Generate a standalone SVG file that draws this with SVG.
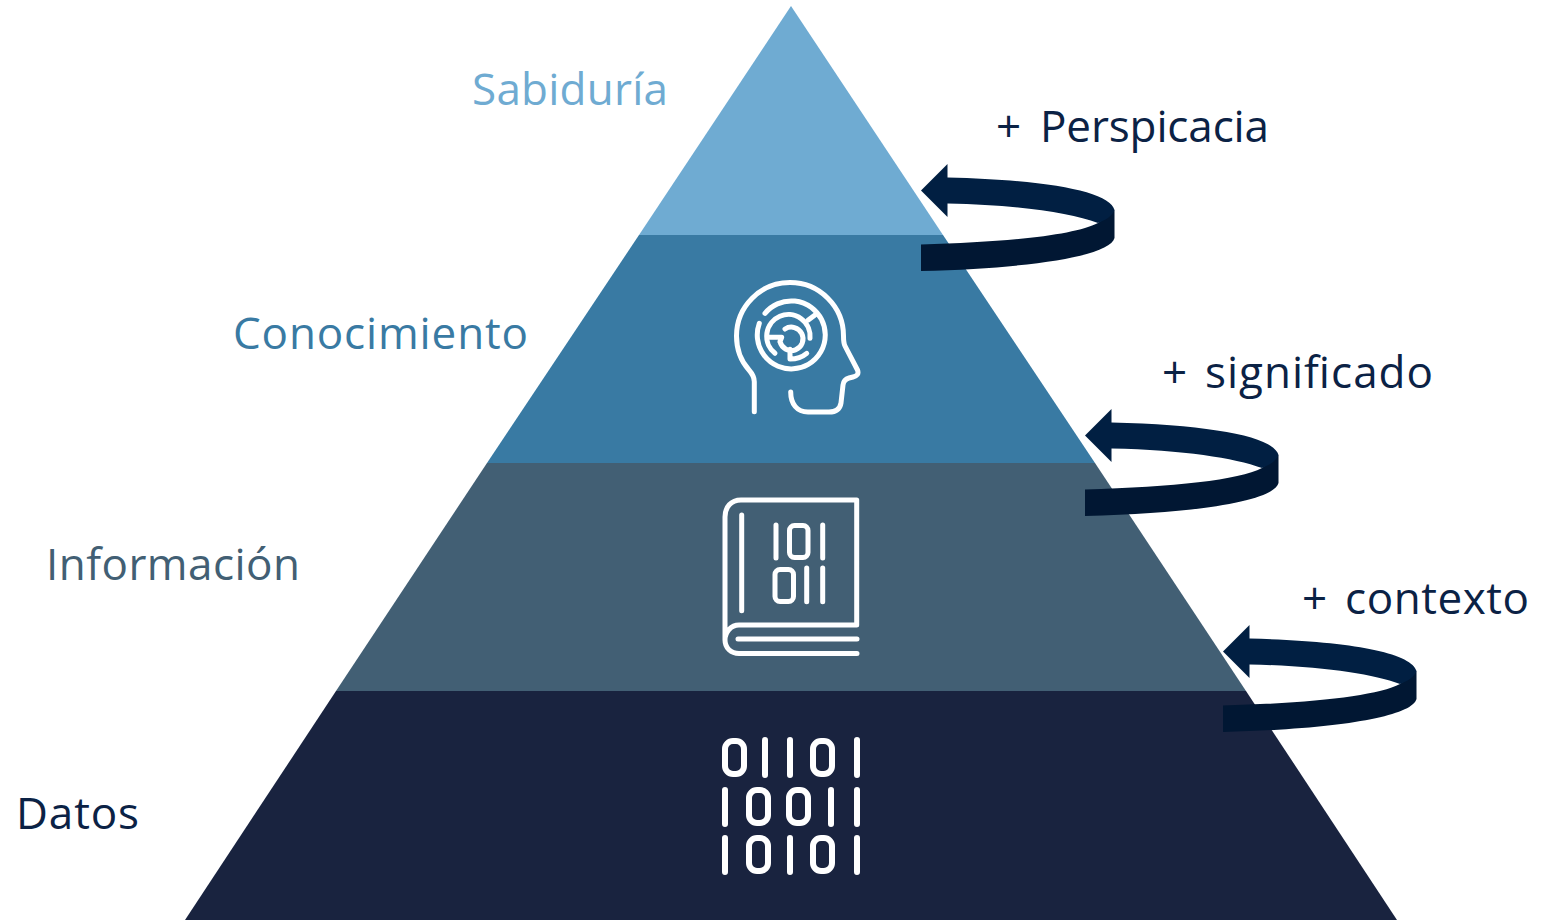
<svg xmlns="http://www.w3.org/2000/svg" width="1557" height="920" viewBox="0 0 1557 920">
<defs>
<style>
text{font-family:"Open Sans","Noto Sans","Liberation Sans",sans-serif;font-size:44px}
.i{fill:none;stroke:#fff;stroke-width:5;stroke-linecap:round;stroke-linejoin:round}
.d{stroke-width:6}
.lab{fill:#0b2245}
.top{fill:#011f42}
.low{fill:#011733}
</style>
<g id="arrowShape">
<path class="low" d="M1114.500 210V238C1110 255 1040 268 921 271V244.500C1010 242 1075 235 1098 223Z"/>
<path class="top" d="M921 190.500L947.500 164V177.500C1050 180 1110 192 1114.500 210C1112 216 1106 220 1098 223C1070 213 1020 205 947.500 203.500V217Z"/>
</g>
</defs>
<rect width="1557" height="920" fill="#fff"/>
<g id="level-sabiduria"><path d="M791 6L943 235H639Z" fill="#6fabd2"/><text x="472" y="105" fill="#6fabd2" textLength="196">Sabiduría</text></g>
<g id="level-conocimiento"><path d="M639 235H943L1095 463H487Z" fill="#397aa3"/><text x="233" y="349" fill="#397aa3" textLength="295">Conocimiento</text>
<g class="i">
<path d="M754.300 411.700V381.700Q754.300 376 749 370C740 360 736.500 349 736.500 336A53.500 53.500 0 0 1 843.500 336C843.500 341 843.500 343 845 346L857.500 370C859 374 857 376 853 377L849 378C845 379 843.500 381 843 385L841 403C840 409 836 412 829 412H808C797 412 790.700 404 790.700 392"/>
<path d="M765 313.300A34 34 0 1 1 759.300 323.300"/>
<path d="M808.300 320L815 315"/>
<path d="M810 338.300A21.700 21.700 0 1 0 775 353.300"/>
<path d="M768.300 337.300H781.700L780 341.700M785 329A11.700 11.700 0 1 1 780 341.700M790 349.300V359Q800 359 806.700 353.300"/>
</g></g>
<g id="level-informacion"><path d="M487 463H1095L1246 691H336Z" fill="#425f74"/><text x="46" y="580" fill="#425f74" textLength="254">Información</text>
<g class="i">
<path d="M856.700 625V500H741C731 500 725 507 725 517V640C725 648 731 653.500 739 653.500H857M856.700 625H739C731 625 725 632 725 640M738 639H857M741.700 515V610.700M776 525V558M822.700 525V558M806.700 568V601.700M822.700 568V601.700"/>
<rect x="789.500" y="525.500" width="18.500" height="32" rx="5"/>
<rect x="775" y="569.500" width="18.500" height="32" rx="5"/>
</g></g>
<g id="level-datos"><path d="M336 691H1246L1397 920H185Z" fill="#19233f"/><text x="16" y="829" fill="#0b2245" textLength="123">Datos</text>
<g class="i d">
<rect x="725" y="741" width="19" height="33" rx="8"/><rect x="813" y="741" width="19" height="33" rx="8"/>
<rect x="749" y="790" width="19" height="33" rx="8"/><rect x="789" y="790" width="19" height="33" rx="8"/>
<rect x="749" y="838" width="19" height="33" rx="8"/><rect x="813" y="838" width="19" height="33" rx="8"/>
<path d="M765 740V775M790 740V775M857 740V775M725 790V824M831 790V824M857 790V824M725 838V872M790 838V872M857 838V872"/>
</g></g>
<g id="connectors">
<use href="#arrowShape"/>
<use href="#arrowShape" x="164" y="245"/>
<use href="#arrowShape" x="302" y="461"/>
</g>
<g id="label-perspicacia"><text class="lab" y="142"><tspan x="996">+ </tspan><tspan x="1040" textLength="229">Perspicacia</tspan></text></g>
<g id="label-significado"><text class="lab" y="388"><tspan x="1162">+ </tspan><tspan x="1205" textLength="228">significado</tspan></text></g>
<g id="label-contexto"><text class="lab" y="614"><tspan x="1302">+ </tspan><tspan x="1345" textLength="184">contexto</tspan></text></g>
</svg>
